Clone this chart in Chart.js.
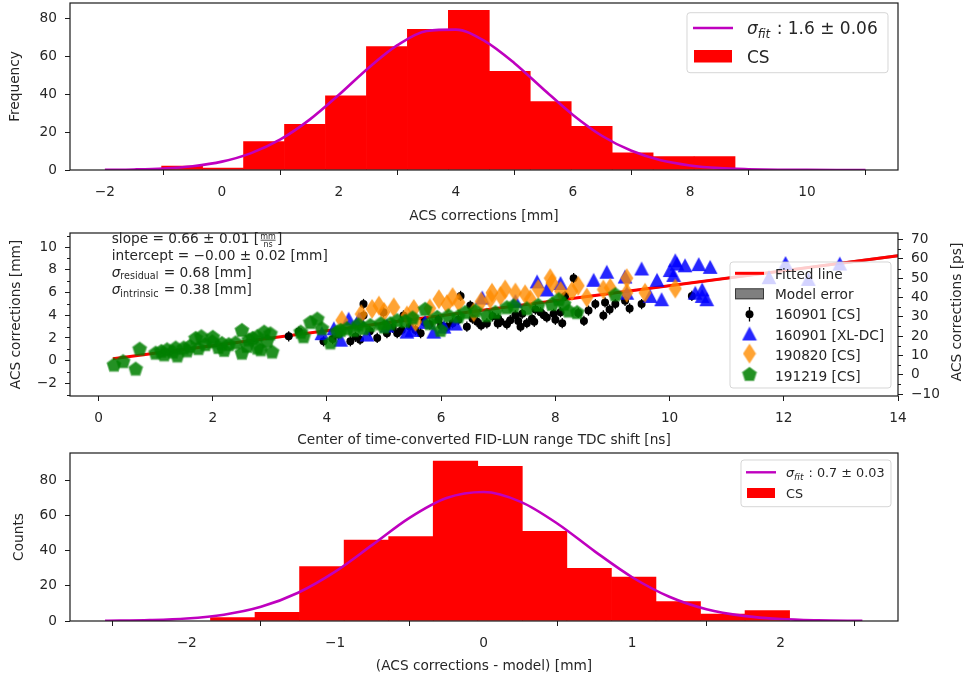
<!DOCTYPE html>
<html>
<head>
<meta charset="utf-8">
<script src="https://cdn.jsdelivr.net/npm/chart.js@4.4.1/dist/chart.umd.min.js"></script>
<style>
  html, body { margin: 0; padding: 0; background: #fff; }
  #wrap { position: relative; width: 964px; height: 679px; overflow: hidden; }
  #wrap canvas { position: absolute; left: 0; }
  #c1 { top: 0; }
  #c2 { top: 225px; }
  #c3 { top: 450px; }
</style>
</head>
<body>
<div id="wrap">
  <canvas id="c1" width="964" height="225"></canvas>
  <canvas id="c2" width="964" height="225"></canvas>
  <canvas id="c3" width="964" height="229"></canvas>
</div>
<script>
/* ACS corrections: histogram, linear model vs TDC shift, residuals */

// top panel - ACS corrections histogram
var TOP_BIN_CENTERS = [-0.68, 0.02, 0.72, 1.42, 2.12, 2.82, 3.52, 4.22, 4.92, 5.62, 6.32, 7.02, 7.72, 8.42];
var TOP_COUNTS = [2, 1, 15, 24, 39, 65, 74, 84, 52, 36, 23, 9, 7, 7];
var TOP_FIT_X = [-2, -1.5, -1, -0.5, 0, 0.5, 1, 1.5, 2, 2.5, 3, 3.5, 4, 4.5, 5, 5.5, 6, 6.5, 7, 7.5, 8, 8.5, 9, 9.5, 10, 10.5, 11];
var TOP_FIT_Y = [0.1, 0.3, 0.8, 2.0, 4.4, 8.9, 16.1, 26.5, 39.6, 53.6, 65.7, 73.2, 73.9, 67.7, 56.2, 42.4, 29.0, 17.9, 10.1, 5.1, 2.4, 1.0, 0.4, 0.1, 0.04, 0.01, 0];
var TOP_X_TICKS = [-2, 0, 2, 4, 6, 8, 10];
var TOP_Y_TICKS = [0, 20, 40, 60, 80];

// middle panel - corrections vs TDC shift
var FIT_X = [0.25, 14];
var FIT_Y = [0.17, 9.24];
var MODEL_LO = [0.15, 9.10];
var MODEL_HI = [0.19, 9.38];
var BLACK_X = [3.33, 3.51, 3.94, 4.10, 4.20, 4.41, 4.50, 4.58, 4.64, 4.64, 4.75, 4.88, 4.99, 5.05, 5.15, 5.23, 5.31, 5.34, 5.45, 5.55, 5.64, 5.70, 5.80, 5.95, 6.00, 6.10, 6.20, 6.30, 6.34, 6.45, 6.51, 6.55, 6.63, 6.70, 6.80, 6.90, 6.99, 7.00, 7.04, 7.15, 7.21, 7.30, 7.35, 7.39, 7.42, 7.50, 7.59, 7.63, 7.65, 7.74, 7.80, 7.85, 7.97, 8.00, 8.09, 8.12, 8.17, 8.32, 8.40, 8.50, 8.58, 8.70, 8.84, 8.87, 8.95, 9.05, 9.22, 9.30, 9.51, 10.39];
var BLACK_Y = [2.14, 2.56, 1.71, 1.90, 2.30, 1.71, 2.10, 1.85, 4.99, 3.98, 2.60, 2.00, 4.27, 2.42, 2.90, 2.42, 2.71, 3.98, 3.00, 2.70, 2.42, 3.40, 3.20, 3.60, 3.10, 2.99, 3.30, 3.60, 5.70, 2.99, 4.85, 3.70, 3.42, 3.10, 3.28, 3.90, 3.27, 3.70, 3.42, 3.20, 3.56, 4.00, 3.50, 2.99, 4.13, 3.30, 3.70, 3.42, 4.50, 4.27, 4.00, 3.80, 4.13, 3.60, 4.27, 3.30, 5.70, 7.26, 4.20, 3.50, 4.41, 4.98, 3.98, 5.13, 4.50, 4.98, 5.27, 4.60, 4.98, 5.70];
var BLACK_ERR = 0.45;
var BLUE_X = [3.91, 4.12, 4.24, 4.38, 4.56, 4.70, 5.05, 5.40, 5.49, 5.72, 5.87, 6.05, 6.25, 6.72, 7.30, 7.68, 7.85, 8.09, 8.67, 8.90, 9.22, 9.25, 9.51, 9.66, 9.78, 9.86, 10.01, 10.07, 10.10, 10.13, 10.27, 10.45, 10.51, 10.57, 10.57, 10.65, 10.71, 11.74, 12.03, 12.43, 12.98];
var BLUE_Y = [2.42, 2.85, 1.85, 3.70, 3.70, 2.30, 3.10, 2.56, 2.71, 3.42, 2.56, 3.00, 3.27, 5.56, 5.27, 6.98, 6.27, 6.84, 7.12, 7.83, 7.41, 5.98, 8.12, 5.70, 7.12, 5.41, 7.98, 7.55, 8.84, 8.55, 8.40, 5.98, 8.50, 6.27, 5.70, 5.41, 8.26, 7.35, 8.60, 7.20, 8.55];
var ORANGE_X = [4.26, 4.60, 4.79, 4.91, 5.00, 5.17, 5.40, 5.52, 5.55, 5.80, 5.96, 6.10, 6.20, 6.31, 6.57, 6.70, 6.86, 6.89, 7.04, 7.12, 7.30, 7.47, 7.56, 7.70, 7.91, 7.94, 8.09, 8.29, 8.40, 8.55, 8.84, 8.96, 9.25, 9.25, 9.57, 10.10];
var ORANGE_Y = [3.56, 4.10, 4.56, 4.85, 4.30, 4.70, 3.98, 4.56, 3.42, 4.60, 5.41, 4.98, 5.60, 5.13, 4.27, 5.20, 5.41, 5.98, 5.70, 6.27, 6.00, 5.84, 5.41, 6.30, 7.26, 6.84, 6.13, 6.13, 6.60, 5.56, 6.27, 6.41, 7.26, 5.98, 5.98, 6.35];
var GREEN_X = [0.27, 0.43, 0.65, 0.72, 1.00, 1.10, 1.15, 1.20, 1.30, 1.35, 1.38, 1.49, 1.55, 1.60, 1.70, 1.75, 1.80, 1.87, 1.99, 2.00, 2.10, 2.16, 2.20, 2.28, 2.40, 2.51, 2.51, 2.60, 2.63, 2.70, 2.78, 2.78, 2.84, 2.90, 3.01, 3.04, 2.95, 3.54, 3.59, 3.71, 3.83, 3.91, 4.06, 4.18, 4.24, 4.35, 4.47, 4.55, 4.64, 4.76, 4.94, 5.00, 5.11, 5.23, 5.37, 5.50, 5.72, 5.80, 5.93, 5.99, 6.13, 6.30, 6.42, 6.60, 6.80, 6.95, 7.15, 7.27, 7.50, 7.70, 7.94, 8.06, 8.15, 8.23, 8.38, 9.05];
var GREEN_Y = [-0.35, -0.05, -0.70, 1.05, 0.70, 0.85, 0.55, 1.00, 0.80, 1.15, 0.45, 1.15, 0.90, 1.30, 2.00, 1.10, 2.15, 1.45, 1.70, 2.10, 1.20, 1.55, 0.95, 1.45, 1.60, 2.70, 0.70, 1.30, 1.85, 2.00, 2.15, 1.15, 1.00, 2.55, 2.40, 0.80, 1.75, 2.55, 2.15, 3.40, 3.70, 2.85, 1.60, 2.56, 2.70, 2.85, 2.70, 3.20, 2.85, 3.13, 3.28, 3.00, 3.28, 3.56, 3.50, 3.80, 4.56, 3.30, 3.85, 2.71, 3.98, 3.90, 4.27, 4.40, 4.00, 4.27, 4.70, 4.85, 4.60, 4.90, 4.99, 5.41, 5.00, 4.41, 4.27, 5.84];
var MID_X_TICKS = [0, 2, 4, 6, 8, 10, 12, 14];
var MID_Y_TICKS = [-2, 0, 2, 4, 6, 8, 10];
var MID_Y_MINOR = [-3, -1, 1, 3, 5, 7, 9, 11];
var PS_TICKS = [-10, 0, 10, 20, 30, 40, 50, 60, 70];
var PS_MINOR = [-5, 5, 15, 25, 35, 45, 55, 65];

// bottom panel - residual histogram
var BOT_BIN_CENTERS = [-1.69, -1.39, -1.09, -0.79, -0.49, -0.19, 0.11, 0.41, 0.71, 1.01, 1.31, 1.61, 1.91];
var BOT_COUNTS = [2, 5, 31, 46, 48, 91, 88, 51, 30, 25, 11, 4, 6];
var BOT_FIT_X = [-2.55, -2.25, -2, -1.75, -1.5, -1.25, -1, -0.75, -0.5, -0.25, 0, 0.25, 0.5, 0.75, 1, 1.25, 1.5, 1.75, 2, 2.25, 2.55];
var BOT_FIT_Y = [0.1, 0.5, 1.4, 3.6, 8.1, 16.1, 28.1, 43.3, 58.7, 70.0, 73.4, 67.8, 55.2, 39.5, 24.9, 13.8, 6.7, 2.9, 1.1, 0.4, 0.1];
var BOT_X_TICKS = [-2, -1, 0, 1, 2];
var BOT_Y_TICKS = [0, 20, 40, 60, 80];

(function () {
  "use strict";

  var TEXT = "#262626";
  var FONT = "'DejaVu Sans', 'Liberation Sans', sans-serif";
  var SMALL = 13.7;
  var RED = "#ff0000";
  var MAGENTA = "#bf00bf";

  Chart.defaults.font.family = FONT;
  Chart.defaults.color = TEXT;

  function pts(xs, ys) {
    return xs.map(function (x, i) { return { x: x, y: ys[i] }; });
  }
  function tickLabel(value) {
    return String(value).replace("-", "\u2212");
  }
  function fixedTicks(list) {
    return function (scale) {
      scale.ticks = list.map(function (v) { return { value: v }; });
    };
  }
  // pin the plot box: no extra room for overhanging tick labels
  function noOverhang(scale) {
    scale.paddingTop = 0;
    scale.paddingBottom = 0;
    scale.paddingLeft = 0;
    scale.paddingRight = 0;
  }

  function xAxis(min, max, ticks, title, height, titlePad) {
    return {
      type: "linear", min: min, max: max, offset: false,
      afterBuildTicks: fixedTicks(ticks),
      afterFit: function (scale) { scale.height = height; noOverhang(scale); },
      grid: { display: true, drawOnChartArea: false, drawTicks: true, tickLength: 5, tickColor: "#1a1a1a", tickWidth: 1 },
      border: { display: false },
      ticks: { color: TEXT, font: { size: SMALL }, padding: 9, maxRotation: 0, autoSkip: false, callback: tickLabel },
      title: { display: true, text: title, color: TEXT, font: { size: SMALL }, padding: { top: 0, bottom: titlePad } }
    };
  }
  function yAxis(min, max, ticks, title, titlePad, position) {
    return {
      type: "linear", min: min, max: max, position: position || "left",
      afterBuildTicks: fixedTicks(ticks),
      afterFit: function (scale) { scale.width = position === "right" ? 66 : 70; noOverhang(scale); },
      grid: { display: true, drawOnChartArea: false, drawTicks: true, tickLength: 5, tickColor: "#1a1a1a", tickWidth: 1 },
      border: { display: false },
      ticks: { color: TEXT, font: { size: SMALL }, padding: 8, autoSkip: false, callback: tickLabel },
      title: { display: !!title, text: title, color: TEXT, font: { size: SMALL }, padding: { top: titlePad, bottom: 0 } }
    };
  }

  // marker images (pentagon, thin diamond, triangle)
  function markerCanvas(w, h, paint) {
    var c = document.createElement("canvas");
    c.width = w;
    c.height = h;
    paint(c.getContext("2d"), w / 2, h / 2);
    return c;
  }
  function polygon(g, cx, cy, r, n) {
    g.beginPath();
    for (var i = 0; i < n; i += 1) {
      var a = -Math.PI / 2 + i * 2 * Math.PI / n;
      if (i) g.lineTo(cx + r * Math.cos(a), cy + r * Math.sin(a));
      else g.moveTo(cx + r * Math.cos(a), cy + r * Math.sin(a));
    }
    g.closePath();
  }
  var PENTAGON = markerCanvas(18, 18, function (g, cx, cy) {
    polygon(g, cx, cy + 0.6, 8.1, 5);
    g.fillStyle = "rgba(0,128,0,0.5)";
    g.fill();
    polygon(g, cx, cy + 0.6, 7.0, 5);
    g.fillStyle = "rgba(0,128,0,0.72)";
    g.fill();
  });
  var DIAMOND = markerCanvas(14, 22, function (g, cx, cy) {
    g.beginPath();
    g.moveTo(cx, cy - 10);
    g.lineTo(cx + 6.5, cy);
    g.lineTo(cx, cy + 10);
    g.lineTo(cx - 6.5, cy);
    g.closePath();
    g.fillStyle = "rgba(255,140,0,0.8)";
    g.fill();
  });
  var TRIANGLE = markerCanvas(16, 16, function (g, cx, cy) {
    g.beginPath();
    g.moveTo(cx, cy - 7);
    g.lineTo(cx + 7.4, cy + 7);
    g.lineTo(cx - 7.4, cy + 7);
    g.closePath();
    g.fillStyle = "rgba(0,0,255,0.85)";
    g.fill();
  });

  // drawing helpers for frame, legends and math-like text
  function frame(chart) {
    var a = chart.chartArea, ctx = chart.ctx;
    ctx.save();
    ctx.strokeStyle = "#1a1a1a";
    ctx.lineWidth = 1.2;
    ctx.strokeRect(a.left, a.top, a.right - a.left, a.bottom - a.top);
    ctx.restore();
  }
  function legendBox(ctx, x, y, w, h) {
    ctx.save();
    ctx.beginPath();
    ctx.roundRect(x, y, w, h, 3);
    ctx.fillStyle = "rgba(255,255,255,0.8)";
    ctx.fill();
    ctx.strokeStyle = "rgba(204,204,204,0.8)";
    ctx.lineWidth = 1;
    ctx.stroke();
    ctx.restore();
  }
  function rich(ctx, x, y, parts, size) {
    ctx.save();
    ctx.fillStyle = TEXT;
    ctx.textBaseline = "alphabetic";
    ctx.textAlign = "left";
    parts.forEach(function (p) {
      ctx.font = (p.italic ? "italic " : "") + (p.size || size) + "px " + FONT;
      ctx.fillText(p.t, x, y + (p.dy || 0));
      x += ctx.measureText(p.t).width + (p.gap || 0);
    });
    ctx.restore();
    return x;
  }
  function hLine(ctx, x0, x1, y, color, width) {
    ctx.save();
    ctx.strokeStyle = color;
    ctx.lineWidth = width;
    ctx.beginPath();
    ctx.moveTo(x0, y);
    ctx.lineTo(x1, y);
    ctx.stroke();
    ctx.restore();
  }
  function minorTicks(chart, scale, values, side) {
    var ctx = chart.ctx, a = chart.chartArea;
    ctx.save();
    ctx.strokeStyle = "#1a1a1a";
    ctx.lineWidth = 1;
    values.forEach(function (v) {
      var py = Math.round(scale.getPixelForValue(v)) + 0.5;
      ctx.beginPath();
      if (side === "left") { ctx.moveTo(a.left - 3, py); ctx.lineTo(a.left, py); }
      else { ctx.moveTo(a.right, py); ctx.lineTo(a.right + 3, py); }
      ctx.stroke();
    });
    ctx.restore();
  }

  function histChart(canvasId, centers, counts, fitX, fitY, xCfg, yCfg, legend) {
    return new Chart(document.getElementById(canvasId), {
      type: "bar",
      data: {
        datasets: [
          { type: "line", label: "fit", data: pts(fitX, fitY), borderColor: MAGENTA, borderWidth: 2.6,
            pointRadius: 0, cubicInterpolationMode: "monotone", fill: false, order: 0 },
          { type: "bar", label: "CS", data: pts(centers, counts), backgroundColor: RED, borderWidth: 0,
            barPercentage: 1, categoryPercentage: 1, order: 1 }
        ]
      },
      options: {
        responsive: false, animation: false, devicePixelRatio: 1,
        layout: { padding: { left: 0, right: 66, top: 3, bottom: 0 } },
        plugins: { legend: { display: false }, tooltip: { enabled: false } },
        scales: { x: xCfg, y: yCfg }
      },
      plugins: [{ id: "extras", afterDraw: function (chart) { frame(chart); legend(chart.ctx); } }]
    });
  }

  // top
  histChart("c1", TOP_BIN_CENTERS, TOP_COUNTS, TOP_FIT_X, TOP_FIT_Y,
    xAxis(-2.596, 11.555, TOP_X_TICKS, "ACS corrections [mm]", 55, 0),
    yAxis(0, 87.9, TOP_Y_TICKS, "Frequency", 7),
    function (ctx) {
      legendBox(ctx, 687, 12.7, 201, 60);
      hLine(ctx, 693, 733, 28, MAGENTA, 2.6);
      rich(ctx, 747, 34.3, [
        { t: "\u03c3", italic: true },
        { t: "fit", italic: true, size: 12, dy: 3.4, gap: 1 },
        { t: " : 1.6 \u00b1 0.06" }
      ], 17);
      ctx.fillStyle = RED;
      ctx.fillRect(694, 50, 38, 12.5);
      rich(ctx, 747, 62.7, [{ t: "CS" }], 17);
    });

  // bottom
  histChart("c3", BOT_BIN_CENTERS, BOT_COUNTS, BOT_FIT_X, BOT_FIT_Y,
    xAxis(-2.786, 2.79, BOT_X_TICKS, "(ACS corrections - model) [mm]", 58, 4),
    yAxis(0, 95.6, BOT_Y_TICKS, "Counts", 11),
    function (ctx) {
      legendBox(ctx, 741, 10, 150, 46.7);
      hLine(ctx, 746, 776, 22.3, MAGENTA, 2.4);
      rich(ctx, 786, 27.3, [
        { t: "\u03c3", italic: true },
        { t: "fit", italic: true, size: 9, dy: 2.6, gap: 1 },
        { t: " : 0.7 \u00b1 0.03" }
      ], 12.8);
      ctx.fillStyle = RED;
      ctx.fillRect(747, 38, 28, 10);
      rich(ctx, 786, 48.3, [{ t: "CS" }], 12.8);
    });

  // middle
  var midY = yAxis(-3.11, 11.24, MID_Y_TICKS, "ACS corrections [mm]", 8);
  var psY = yAxis(-11, 73.4, PS_TICKS, "", 0, "right");

  function errorBars(chart) {
    var ctx = chart.ctx, xs = chart.scales.x, ys = chart.scales.y;
    ctx.save();
    ctx.strokeStyle = "#000";
    ctx.lineWidth = 1.3;
    BLACK_X.forEach(function (x, i) {
      var px = xs.getPixelForValue(x);
      ctx.beginPath();
      ctx.moveTo(px, ys.getPixelForValue(BLACK_Y[i] - BLACK_ERR));
      ctx.lineTo(px, ys.getPixelForValue(BLACK_Y[i] + BLACK_ERR));
      ctx.stroke();
    });
    ctx.restore();
  }

  function midOverlay(chart) {
    var ctx = chart.ctx;
    minorTicks(chart, chart.scales.y, MID_Y_MINOR, "left");
    minorTicks(chart, chart.scales.y2, PS_MINOR, "right");
    frame(chart);

    // fit summary text
    var x = rich(ctx, 111.7, 17.7, [{ t: "slope = 0.66 \u00b1 0.01 [" }], SMALL);
    ctx.save();
    ctx.fillStyle = TEXT;
    ctx.font = "8px " + FONT;
    ctx.textAlign = "center";
    ctx.fillText("mm", x + 9, 13.5);
    ctx.fillText("ns", x + 9, 21.5);
    ctx.restore();
    hLine(ctx, x + 1.5, x + 16.5, 15.2, TEXT, 0.8);
    rich(ctx, x + 18, 17.7, [{ t: "]" }], SMALL);
    rich(ctx, 111.7, 35, [{ t: "intercept = \u22120.00 \u00b1 0.02 [mm]" }], SMALL);
    rich(ctx, 111.7, 51.5, [
      { t: "\u03c3", italic: true },
      { t: "residual", size: 9.6, dy: 2.8, gap: 1 },
      { t: " = 0.68 [mm]" }
    ], SMALL);
    rich(ctx, 111.7, 69, [
      { t: "\u03c3", italic: true },
      { t: "intrinsic", size: 9.6, dy: 2.8, gap: 1 },
      { t: " = 0.38 [mm]" }
    ], SMALL);

    // secondary axis title
    ctx.save();
    ctx.translate(957, 87);
    ctx.rotate(-Math.PI / 2);
    ctx.fillStyle = TEXT;
    ctx.font = SMALL + "px " + FONT;
    ctx.textAlign = "center";
    ctx.textBaseline = "middle";
    ctx.fillText("ACS corrections [ps]", 0, 0);
    ctx.restore();

    // legend
    legendBox(ctx, 730, 37, 161, 126);
    var hx = 749.5, tx = 775;
    hLine(ctx, 735, 764, 48.3, RED, 3);
    rich(ctx, tx, 53.5, [{ t: "Fitted line" }], SMALL);
    ctx.save();
    ctx.fillStyle = "rgba(0,0,0,0.5)";
    ctx.fillRect(735, 63.3, 29, 11);
    ctx.strokeStyle = "rgba(0,0,0,0.55)";
    ctx.lineWidth = 1;
    ctx.strokeRect(735.5, 63.8, 28, 10);
    ctx.restore();
    rich(ctx, tx, 73.9, [{ t: "Model error" }], SMALL);
    ctx.save();
    ctx.strokeStyle = "#000";
    ctx.lineWidth = 1.3;
    ctx.beginPath();
    ctx.moveTo(hx, 82);
    ctx.lineTo(hx, 96.5);
    ctx.stroke();
    ctx.fillStyle = "#000";
    ctx.beginPath();
    ctx.arc(hx, 89.3, 4, 0, Math.PI * 2);
    ctx.fill();
    ctx.drawImage(TRIANGLE, hx - 8, 108.5 - 8);
    ctx.drawImage(DIAMOND, hx - 7, 128.6 - 11);
    ctx.drawImage(PENTAGON, hx - 9, 149 - 9);
    ctx.restore();
    rich(ctx, tx, 94.3, [{ t: "160901 [CS]" }], SMALL);
    rich(ctx, tx, 114.7, [{ t: "160901 [XL-DC]" }], SMALL);
    rich(ctx, tx, 135.1, [{ t: "190820 [CS]" }], SMALL);
    rich(ctx, tx, 155.5, [{ t: "191219 [CS]" }], SMALL);
  }

  new Chart(document.getElementById("c2"), {
    type: "scatter",
    data: {
      datasets: [
        { type: "line", label: "model-lo", data: pts(FIT_X, MODEL_LO), borderWidth: 0, pointRadius: 0, fill: false, order: 12 },
        { type: "line", label: "Model error", data: pts(FIT_X, MODEL_HI), borderWidth: 0, pointRadius: 0,
          fill: "-1", backgroundColor: "rgba(0,0,0,0.5)", order: 11 },
        { type: "line", label: "Fitted line", data: pts(FIT_X, FIT_Y), borderColor: RED, borderWidth: 3,
          pointRadius: 0, fill: false, order: 10 },
        { label: "160901 [CS]", data: pts(BLACK_X, BLACK_Y), pointStyle: "circle", pointRadius: 4,
          backgroundColor: "#000", borderWidth: 0, order: 4 },
        { label: "160901 [XL-DC]", data: pts(BLUE_X, BLUE_Y), pointStyle: TRIANGLE, pointRadius: 7, order: 3 },
        { label: "190820 [CS]", data: pts(ORANGE_X, ORANGE_Y), pointStyle: DIAMOND, pointRadius: 7, order: 2 },
        { label: "191219 [CS]", data: pts(GREEN_X, GREEN_Y), pointStyle: PENTAGON, pointRadius: 7, order: 1 }
      ]
    },
    options: {
      responsive: false, animation: false, devicePixelRatio: 1,
      layout: { padding: { left: 0, right: 0, top: 3, bottom: 0 } },
      plugins: { legend: { display: false }, tooltip: { enabled: false } },
      scales: {
        x: xAxis(-0.5, 14, MID_X_TICKS, "Center of time-converted FID-LUN range TDC shift [ns]", 54, 1.8),
        y: midY,
        y2: psY
      }
    },
    plugins: [{
      id: "extras",
      afterDatasetDraw: function (chart, args) { if (args.index === 3) errorBars(chart); },
      afterDraw: midOverlay
    }]
  });
})();
</script>
</body>
</html>
